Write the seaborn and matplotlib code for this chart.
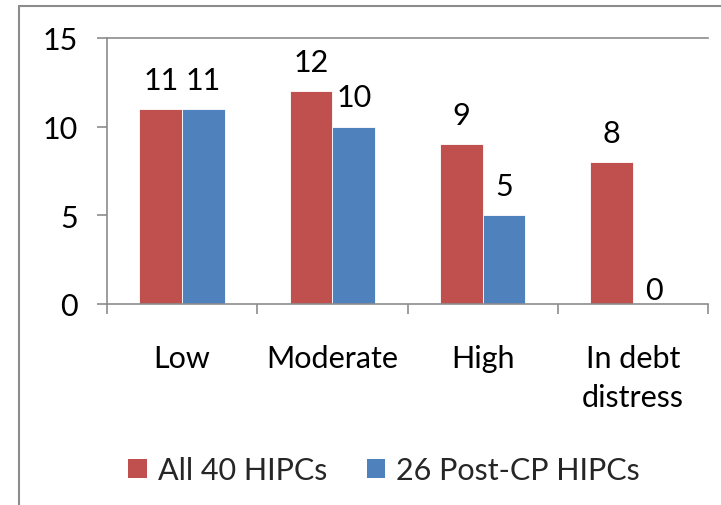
import matplotlib
matplotlib.use("Agg")
import matplotlib.pyplot as plt
import seaborn as sns
import pandas as pd
from matplotlib.lines import Line2D
from matplotlib.patches import Patch

categories = ["Low", "Moderate", "High", "In debt\ndistress"]
series_names = ["All 40 HIPCs", "26 Post-CP HIPCs"]
all_hipcs = [11, 12, 9, 8]
post_cp = [11, 10, 5, 0]
colors = ["#C0504D", "#4F81BD"]
yticks = [0, 5, 10, 15]

df = pd.DataFrame({
    "category": categories * 2,
    "series": [series_names[0]] * 4 + [series_names[1]] * 4,
    "value": all_hipcs + post_cp,
})

sns.set_theme(style="white")
plt.rcParams["font.family"] = ["Lato", "DejaVu Sans"]
FS = 22

fig = plt.figure(figsize=(7.21, 5.06), dpi=100)
ax = fig.add_axes([107 / 721, 1 - 305 / 506, 601 / 721, 266 / 506])

sns.barplot(data=df, x="category", y="value", hue="series", order=categories,
            hue_order=series_names, palette=colors, width=0.57, gap=0,
            saturation=1, ax=ax, legend=False, edgecolor="white", linewidth=0.6)

for p in ax.patches:
    h = p.get_height()
    if p.get_width() == 0:
        continue
    ax.annotate(f"{int(round(h))}", xy=(p.get_x() + p.get_width() / 2, h),
                xytext=(0, 11 if h > 0 else 0), textcoords="offset points",
                ha="center", va="bottom", fontsize=FS, color="black")

ax.set_xlim(-0.5, 3.5)
ax.set_ylim(0, 15)
ax.set_yticks(yticks)
ax.set_yticklabels([str(t) for t in yticks], fontsize=FS)
ax.set_xticks(range(len(categories)))
ax.set_xticklabels(categories, fontsize=FS, linespacing=1.45)
ax.set_xticks([-0.5, 0.5, 1.5, 2.5, 3.5], minor=True)
ax.tick_params(axis="x", which="major", length=0, pad=29, colors="black")
ax.tick_params(axis="x", which="minor", length=7, width=1.2, color="#8c8c8c", direction="out", bottom=True)
ax.tick_params(axis="y", which="major", length=7, width=1.2, color="#8c8c8c", direction="out", left=True, pad=14, labelcolor="black")
ax.set_xlabel("")
ax.set_ylabel("")
ax.grid(False)
for s in ["left", "bottom", "top"]:
    ax.spines[s].set_visible(True)
    ax.spines[s].set_color("#8c8c8c")
    ax.spines[s].set_linewidth(1.2)
ax.spines["right"].set_visible(False)

handles = [Patch(facecolor=c, edgecolor="none") for c in colors]
fig.legend(handles, series_names, loc="center", bbox_to_anchor=(384 / 721, 1 - 471 / 506),
           ncol=2, frameon=False, fontsize=FS, handlelength=0.6, handleheight=0.6,
           handletextpad=0.36, columnspacing=1.3)

# partial outer frame (left and top)
fig.add_artist(Line2D([19 / 721, 19 / 721], [0, 1 - 7 / 506], transform=fig.transFigure,
                      color="#8c8c8c", linewidth=1.5))
fig.add_artist(Line2D([19 / 721, 1], [1 - 7 / 506, 1 - 7 / 506], transform=fig.transFigure,
                      color="#8c8c8c", linewidth=1.5))

fig.savefig("out.png", dpi=100)
